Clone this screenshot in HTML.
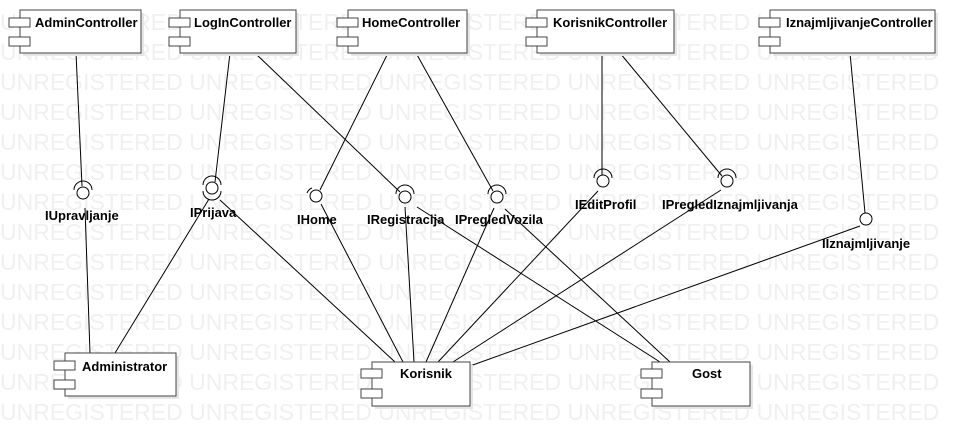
<!DOCTYPE html>
<html><head><meta charset="utf-8"><style>body{margin:0;background:#fff}svg{display:block}</style></head><body>
<svg width="977" height="446" xmlns="http://www.w3.org/2000/svg" font-family="Liberation Sans, sans-serif">
<g fill="#f0f0f0" font-size="23" font-family="Liberation Sans, sans-serif">
<text x="0" y="30">UNREGISTERED UNREGISTERED UNREGISTERED UNREGISTERED UNREGISTERED</text>
<text x="0" y="60">UNREGISTERED UNREGISTERED UNREGISTERED UNREGISTERED UNREGISTERED</text>
<text x="0" y="90">UNREGISTERED UNREGISTERED UNREGISTERED UNREGISTERED UNREGISTERED</text>
<text x="0" y="120">UNREGISTERED UNREGISTERED UNREGISTERED UNREGISTERED UNREGISTERED</text>
<text x="0" y="150">UNREGISTERED UNREGISTERED UNREGISTERED UNREGISTERED UNREGISTERED</text>
<text x="0" y="180">UNREGISTERED UNREGISTERED UNREGISTERED UNREGISTERED UNREGISTERED</text>
<text x="0" y="210">UNREGISTERED UNREGISTERED UNREGISTERED UNREGISTERED UNREGISTERED</text>
<text x="0" y="240">UNREGISTERED UNREGISTERED UNREGISTERED UNREGISTERED UNREGISTERED</text>
<text x="0" y="270">UNREGISTERED UNREGISTERED UNREGISTERED UNREGISTERED UNREGISTERED</text>
<text x="0" y="300">UNREGISTERED UNREGISTERED UNREGISTERED UNREGISTERED UNREGISTERED</text>
<text x="0" y="330">UNREGISTERED UNREGISTERED UNREGISTERED UNREGISTERED UNREGISTERED</text>
<text x="0" y="360">UNREGISTERED UNREGISTERED UNREGISTERED UNREGISTERED UNREGISTERED</text>
<text x="0" y="390">UNREGISTERED UNREGISTERED UNREGISTERED UNREGISTERED UNREGISTERED</text>
<text x="0" y="420">UNREGISTERED UNREGISTERED UNREGISTERED UNREGISTERED UNREGISTERED</text>
</g>
<g stroke="#000" stroke-width="1" fill="none">
<line x1="76" y1="53" x2="82" y2="186"/>
<line x1="85" y1="208" x2="90" y2="353"/>
<line x1="230" y1="53" x2="215" y2="182"/>
<line x1="255" y1="53" x2="400" y2="192"/>
<line x1="209" y1="199" x2="115" y2="353"/>
<line x1="220" y1="200" x2="395" y2="362"/>
<line x1="388" y1="53" x2="320" y2="190"/>
<line x1="416" y1="53" x2="493" y2="191"/>
<line x1="321" y1="204" x2="403" y2="362"/>
<line x1="405" y1="207" x2="414" y2="362"/>
<line x1="417" y1="207" x2="660" y2="362"/>
<line x1="494" y1="208" x2="426" y2="362"/>
<line x1="505" y1="209" x2="670" y2="362"/>
<line x1="602" y1="53" x2="602" y2="175"/>
<line x1="620" y1="53" x2="722" y2="176"/>
<line x1="598" y1="191" x2="438" y2="362"/>
<line x1="721" y1="190" x2="453" y2="362"/>
<line x1="850" y1="53" x2="865" y2="213"/>
<line x1="860" y1="226" x2="470" y2="366"/>
</g>
<g stroke="#000" fill="#fff">
<g><circle cx="83" cy="193" r="6"/><path d="M74,190 A9,9 0 0 1 92,190" fill="none"/></g>
<g><circle cx="212" cy="188" r="6"/><path d="M203,185 A9,9 0 0 1 221,185" fill="none"/><path d="M203,191 A9,9 0 0 0 221,191" fill="none"/></g>
<g><circle cx="316" cy="196" r="6"/><path d="M307,193 A9,9 0 0 1 312,188" fill="none"/></g>
<g><circle cx="405" cy="197" r="6"/><path d="M396,194 A9,9 0 0 1 414,194" fill="none"/></g>
<g><circle cx="497" cy="197" r="6"/><path d="M488,194 A9,9 0 0 1 506,194" fill="none"/></g>
<g><circle cx="603" cy="181" r="6"/><path d="M594,178 A9,9 0 0 1 612,178" fill="none"/></g>
<g><circle cx="727" cy="181" r="6"/><path d="M718,178 A9,9 0 0 1 736,178" fill="none"/></g>
<g><circle cx="866" cy="219" r="6"/></g>
</g>
<g font-size="13" font-weight="bold" fill="#000">
<text x="45" y="220">IUpravljanje</text>
<text x="190" y="217">IPrijava</text>
<text x="297" y="224">IHome</text>
<text x="367" y="224">IRegistracija</text>
<text x="455" y="224">IPregledVozila</text>
<text x="575" y="209">IEditProfil</text>
<text x="662" y="209">IPregledIznajmljivanja</text>
<text x="822" y="248">IIznajmljivanje</text>
</g>
<g font-size="13" font-weight="bold" fill="#000">
<g>
<rect x="23" y="13" width="121" height="43" fill="#e6e6e6" stroke="none"/>
<rect x="20" y="10" width="121" height="43" fill="#fff" stroke="#444"/>
<rect x="9" y="18" width="21" height="9" fill="#fff" stroke="#444"/><rect x="9" y="37" width="21" height="9" fill="#fff" stroke="#444"/>
<text x="35" y="27">AdminController</text>
</g>
<g>
<rect x="183" y="13" width="116" height="43" fill="#e6e6e6"/>
<rect x="180" y="10" width="116" height="43" fill="#fff" stroke="#444"/>
<rect x="169" y="18" width="21" height="9" fill="#fff" stroke="#444"/><rect x="169" y="37" width="21" height="9" fill="#fff" stroke="#444"/>
<text x="194" y="27">LogInController</text>
</g>
<g>
<rect x="351" y="13" width="119" height="43" fill="#e6e6e6"/>
<rect x="348" y="10" width="119" height="43" fill="#fff" stroke="#444"/>
<rect x="337" y="18" width="21" height="9" fill="#fff" stroke="#444"/><rect x="337" y="37" width="21" height="9" fill="#fff" stroke="#444"/>
<text x="362" y="27">HomeController</text>
</g>
<g>
<rect x="540" y="13" width="137" height="43" fill="#e6e6e6"/>
<rect x="537" y="10" width="137" height="43" fill="#fff" stroke="#444"/>
<rect x="526" y="18" width="21" height="9" fill="#fff" stroke="#444"/><rect x="526" y="37" width="21" height="9" fill="#fff" stroke="#444"/>
<text x="553" y="27">KorisnikController</text>
</g>
<g>
<rect x="773" y="13" width="165" height="43" fill="#e6e6e6"/>
<rect x="770" y="10" width="165" height="43" fill="#fff" stroke="#444"/>
<rect x="759" y="18" width="21" height="9" fill="#fff" stroke="#444"/><rect x="759" y="37" width="21" height="9" fill="#fff" stroke="#444"/>
<text x="786" y="27">IznajmljivanjeController</text>
</g>
<g>
<rect x="68" y="356" width="111" height="43" fill="#e6e6e6"/>
<rect x="65" y="353" width="111" height="43" fill="#fff" stroke="#444"/>
<rect x="54" y="361" width="21" height="9" fill="#fff" stroke="#444"/><rect x="54" y="380" width="21" height="9" fill="#fff" stroke="#444"/>
<text x="82" y="371">Administrator</text>
</g>
<g>
<rect x="375" y="365" width="98" height="44" fill="#e6e6e6"/>
<rect x="372" y="362" width="98" height="44" fill="#fff" stroke="#444"/>
<rect x="361" y="369" width="21" height="9" fill="#fff" stroke="#444"/><rect x="361" y="389" width="21" height="9" fill="#fff" stroke="#444"/>
<text x="400" y="378">Korisnik</text>
</g>
<g>
<rect x="655" y="365" width="98" height="44" fill="#e6e6e6"/>
<rect x="652" y="362" width="98" height="44" fill="#fff" stroke="#444"/>
<rect x="641" y="369" width="21" height="9" fill="#fff" stroke="#444"/><rect x="641" y="389" width="21" height="9" fill="#fff" stroke="#444"/>
<text x="692" y="378">Gost</text>
</g>
</g>
</svg>
</body></html>
